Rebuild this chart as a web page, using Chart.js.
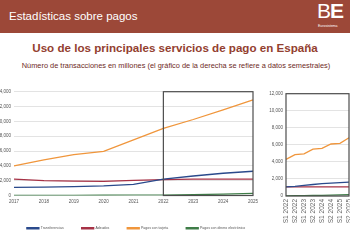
<!DOCTYPE html>
<html>
<head>
<meta charset="utf-8">
<script src="https://cdn.jsdelivr.net/npm/chart.js@4.4.1/dist/chart.umd.min.js"></script>
<style>
  body { margin: 0; width: 350px; height: 250px; overflow: hidden; background: #fff; position: relative;
         font-family: "Liberation Sans", Arial, sans-serif; }
  #hdr { position: absolute; left: 0; top: 0; width: 350px; height: 33px; background: #9c4838; }
  #hdr .t { position: absolute; left: 9px; top: 10px; font-size: 11.5px; color: #fff; white-space: nowrap; }
  #logo { position: absolute; left: 317px; top: 0px; font-size: 21px; color: #fff; line-height: 21px; letter-spacing: -1px; }
  #logo b { font-weight: bold; }
  #logo span { font-weight: normal; }
  #euro { position: absolute; left: 318px; top: 24px; font-size: 3.5px; color: #fff; }
  #title { position: absolute; left: 0; top: 41px; width: 350px; text-align: center; font-size: 11.6px;
           font-weight: bold; color: #93402f; white-space: nowrap; }
  #sub { position: absolute; left: 0; top: 61px; width: 352px; text-align: center; font-size: 7.4px;
         color: #6e2a1e; white-space: nowrap; }
  .wrap { position: absolute; }
  #wl { left: -6px; top: 86px; }
  #wr { left: 266px; top: 88px; }
</style>
</head>
<body>
<div id="hdr"><div class="t">Estadísticas sobre pagos</div></div>
<div id="logo"><span>B</span><b>E</b></div>
<div id="euro">Eurosistema</div>
<div id="title">Uso de los principales servicios de pago en España</div>
<div id="sub">Número de transacciones en millones (el gráfico de la derecha se refiere a datos semestrales)</div>
<div class="wrap" id="wl"><canvas id="left" width="284" height="154"></canvas></div>
<div class="wrap" id="wr"><canvas id="right" width="84" height="140"></canvas></div>
<script>
// annual series (left chart)
const years = ['2017', '2018', '2019', '2020', '2021', '2022', '2023', '2024', '2025'];
const transferAnual = [1090, 1130, 1200, 1300, 1500, 2200, 2630, 3000, 3270];
const adeudosAnual = [2220, 2000, 1950, 1900, 2050, 2150, 2200, 2200, 2200];
const tarjetaAnual = [4000, 4800, 5500, 5950, 7500, 9050, 10250, 11550, 12900];
const dineroAnual = [20, 25, 30, 35, 45, 60, 105, 180, 280];

// semester series (right chart)
const semesters = ['S1 2022', 'S2 2022', 'S1 2023', 'S2 2023', 'S1 2024', 'S2 2024', 'S1 2025', 'S2 2025'];
const transferSem = [1080, 1130, 1250, 1350, 1450, 1520, 1580, 1620];
const adeudosSem = [1060, 1080, 1070, 1080, 1070, 1080, 1070, 1080];
const tarjetaSem = [4300, 4850, 4950, 5500, 5580, 6100, 6180, 6840];
const dineroSem = [25, 35, 45, 60, 80, 100, 130, 150];

const seriesNames = ['Transferencias', 'Adeudos', 'Pagos con tarjeta', 'Pagos con dinero electrónico'];
const seriesColors = ['#2a4a8c', '#a63246', '#f0963c', '#3f7d48'];

const tickFont = { family: 'Liberation Sans', size: 4.5 };

// draws the dark frame: whole plot area, or only between two categories
const frame = {
  id: 'frame',
  afterDatasetsDraw(chart, args, opts) {
    const { ctx, chartArea, scales } = chart;
    const x0 = opts.from != null ? scales.x.getPixelForValue(opts.from) : chartArea.left;
    const x1 = opts.to != null ? scales.x.getPixelForValue(opts.to) : chartArea.right;
    ctx.save();
    ctx.strokeStyle = '#4d4d4d';
    ctx.lineWidth = 1.2;
    ctx.strokeRect(x0, chartArea.top, x1 - x0, chartArea.bottom - chartArea.top);
    ctx.restore();
  }
};

function makeSets(list) {
  return list.map((data, i) => ({
    label: seriesNames[i],
    data,
    borderColor: seriesColors[i],
    backgroundColor: seriesColors[i],
    borderWidth: 1.3,
    pointRadius: 0,
    tension: 0
  }));
}

function yAxis(max, width) {
  return {
    min: 0, max,
    ticks: { stepSize: 2000, font: tickFont, color: '#555', padding: 3,
             callback: v => v.toLocaleString('en-US') },
    grid: { color: '#dcdcdc', lineWidth: 0.8, drawTicks: false },
    border: { display: false },
    afterFit: s => { s.width = width; }
  };
}

// padRight: room kept free right of the plot (the legend may still use it)
function xAxis(height, padRight, ticks) {
  return {
    offset: false,
    ticks: Object.assign({ font: tickFont, color: '#555', padding: 4, maxRotation: 0 }, ticks),
    grid: { display: false, drawTicks: false },
    border: { display: false },
    afterFit: s => { s.height = height; s.paddingLeft = 0; s.paddingRight = padRight; }
  };
}

new Chart(document.getElementById('left'), {
  type: 'line',
  data: { labels: years, datasets: makeSets([transferAnual, adeudosAnual, tarjetaAnual, dineroAnual]) },
  options: {
    responsive: false,
    animation: false,
    devicePixelRatio: 1,
    layout: { padding: { top: 4, right: 0, bottom: 0, left: 0 } },
    scales: {
      x: xAxis(13, 25, {}),
      y: yAxis(14000, 20)
    },
    plugins: {
      legend: {
        position: 'bottom',
        labels: { font: { family: 'Liberation Sans', size: 3.5 }, color: '#555',
                  boxWidth: 12, boxHeight: 1.3, padding: 18 }
      },
      tooltip: { enabled: false },
      frame: { from: 5, to: 8 }
    }
  },
  plugins: [frame]
});

new Chart(document.getElementById('right'), {
  type: 'line',
  data: { labels: semesters, datasets: makeSets([transferSem, adeudosSem, tarjetaSem, dineroSem]) },
  options: {
    responsive: false,
    animation: false,
    devicePixelRatio: 1,
    layout: { padding: { top: 4, right: 1, bottom: 0 } },
    scales: {
      x: xAxis(32, 0, { font: { family: 'Liberation Sans', size: 6.5 }, color: '#666', padding: 3,
                        minRotation: 90, maxRotation: 90, autoSkip: false }),
      y: yAxis(12000, 20)
    },
    plugins: {
      legend: { display: false },
      tooltip: { enabled: false },
      frame: {}
    }
  },
  plugins: [frame]
});
</script>
</body>
</html>
